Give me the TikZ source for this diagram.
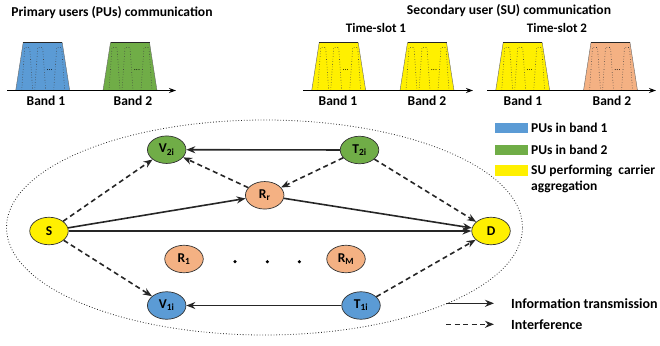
\documentclass[tikz,border=0pt]{standalone}
\usepackage{fontspec}
\setmainfont{Carlito}
\usetikzlibrary{shapes.geometric,arrows.meta}
\definecolor{pub}{RGB}{91,155,213}
\definecolor{pug}{RGB}{112,173,71}
\definecolor{suy}{RGB}{255,240,0}
\definecolor{rel}{RGB}{244,177,131}
\tikzset{
  pics/band/.style={code={
    \fill[#1] (0,0)--(7.5,-48)--(46.5,-48)--(54,0)--cycle;
    \draw[black!60, line width=0.4pt] (0,0)--(7.5,-48)--(46.5,-48)--(54,0);
    \draw[black!85, line width=0.8pt] (7.5,-48)--(46.5,-48);
    \foreach \a in {6,19,38}
      \draw[black!75, dotted, line width=0.6pt] (\a,0)--(\a+3,-43)--(\a+8,-43)--(\a+11,0);
    \node[font=\fontsize{8}{8}\selectfont, inner sep=0] at (34,-20) {...};
  }},
  ttl/.style={font=\fontsize{13.6}{15}\selectfont\bfseries, inner sep=0},
  sub/.style={font=\fontsize{13}{15}\selectfont\bfseries, inner sep=0},
  lbl/.style={font=\fontsize{13.5}{15}\selectfont\bfseries, inner sep=0},
  leg/.style={font=\fontsize{13.5}{15}\selectfont\bfseries, inner sep=0, anchor=west},
  axis/.style={line width=1.1pt, -{Stealth[length=7pt,width=5pt]}},
  nd/.style={ellipse, draw=black!80, line width=0.7pt, minimum width=38.5pt, minimum height=27.5pt, inner sep=0, font=\fontsize{13.5}{15}\selectfont\bfseries},
  info/.style={line width=1.6pt, draw=black!85, -{Stealth[length=9pt,width=7pt]}},
  intf/.style={line width=1.6pt, draw=black!85, dash pattern=on 5pt off 3.5pt, -{Stealth[length=9pt,width=7pt]}},
}
\begin{document}
\begin{tikzpicture}[x=1pt,y=-1pt]
\useasboundingbox (0,0) rectangle (660,345);
% titles
\node[ttl] (t1) at (112,12.5) {Primary users (PUs) communication};
\node[ttl] (t2) at (509,11) {Secondary user (SU) communication};
\node[sub] (ts1) at (376,27.5) {Time-slot 1};
\node[sub] (ts2) at (557,27.5) {Time-slot 2};
% PU bands
\pic at (15.7,90.5) {band=pub};
\pic at (103,90.5) {band=pug};
\draw[axis] (7,90.5) -- (176,90.5);
\node[lbl] (b1) at (46,101) {Band 1};
\node[lbl] (b2) at (133,101) {Band 2};
% SU time-slot 1
\pic at (311.7,90.5) {band=suy};
\pic at (400,90.5) {band=suy};
\draw[axis] (303,90.5) -- (473,90.5);
\node[lbl] (b3) at (338,101) {Band 1};
\node[lbl] (b4) at (427,101) {Band 2};
% SU time-slot 2
\pic at (495.7,90.5) {band=suy};
\pic at (583.5,90.5) {band=rel};
\draw[axis] (487,90.5) -- (656,90.5);
\node[lbl] (b5) at (523,101) {Band 1};
\node[lbl] (b6) at (612,101) {Band 2};
% legend
\fill[pub] (495,122.7) rectangle (527.7,132.7);
\node[leg] (l1) at (531,127.7) {PUs in band 1};
\fill[pug] (495,145) rectangle (527.7,155);
\node[leg] (l2) at (531,150) {PUs in band 2};
\fill[suy] (495,165) rectangle (527.7,176);
\node[leg] (l3) at (531,170.5) {SU performing\ \ carrier};
\node[leg] (l4) at (531,187) {aggregation};
% region
\draw[dotted, line width=0.8pt, black!85] (264.5,227.5) ellipse [x radius=258pt, y radius=107.5pt];
% nodes
\node[nd, fill=pug] (V2) at (166.7,149.7) {V\textsubscript{2i}};
\node[nd, fill=pug] (T2) at (359.5,150) {T\textsubscript{2i}};
\node[nd, fill=rel] (Rr) at (264.7,195.3) {R\textsubscript{r}};
\node[nd, fill=suy] (S) at (49,231) {S};
\node[nd, fill=suy] (D) at (491,231) {D};
\node[nd, fill=rel] (R1) at (184,259) {R\textsubscript{1}};
\node[nd, fill=rel] (RM) at (346,259) {R\textsubscript{M}};
\node[nd, fill=pub] (V1) at (166.7,305.5) {V\textsubscript{1i}};
\node[nd, fill=pub] (T1) at (361,305.5) {T\textsubscript{1i}};
\foreach \x/\n in {235/d1,267.3/d2,299.3/d3}
  \node[circle, fill=black, inner sep=0, minimum size=3.5pt] (\n) at (\x,261.7) {};
% edges
\draw[info] (T2) -- (V2);
\draw[intf] (T2) -- (Rr);
\draw[intf] (Rr) -- (V2);
\draw[intf] (S) -- (V2);
\draw[info] (S) -- (Rr);
\draw[info] (Rr) -- (D);
\draw[intf] (T2) -- (D);
\draw[info] (S) -- (D);
\draw[intf] (S) -- (V1);
\draw[info] (T1) -- (V1);
\draw[intf] (T1) -- (D);
% bottom legend
\coordinate (a1) at (446,303.3);
\coordinate (a2) at (494,303.3);
\coordinate (a3) at (446,324.3);
\coordinate (a4) at (494,324.3);
\draw[info] (a1) -- (a2);
\draw[intf] (a3) -- (a4);
\node[leg, font=\fontsize{14}{15}\selectfont\bfseries] (l5) at (511,303.3) {Information transmission};
\node[leg, font=\fontsize{14}{15}\selectfont\bfseries] (l6) at (511,324.3) {Interference};
\end{tikzpicture}
\end{document}
